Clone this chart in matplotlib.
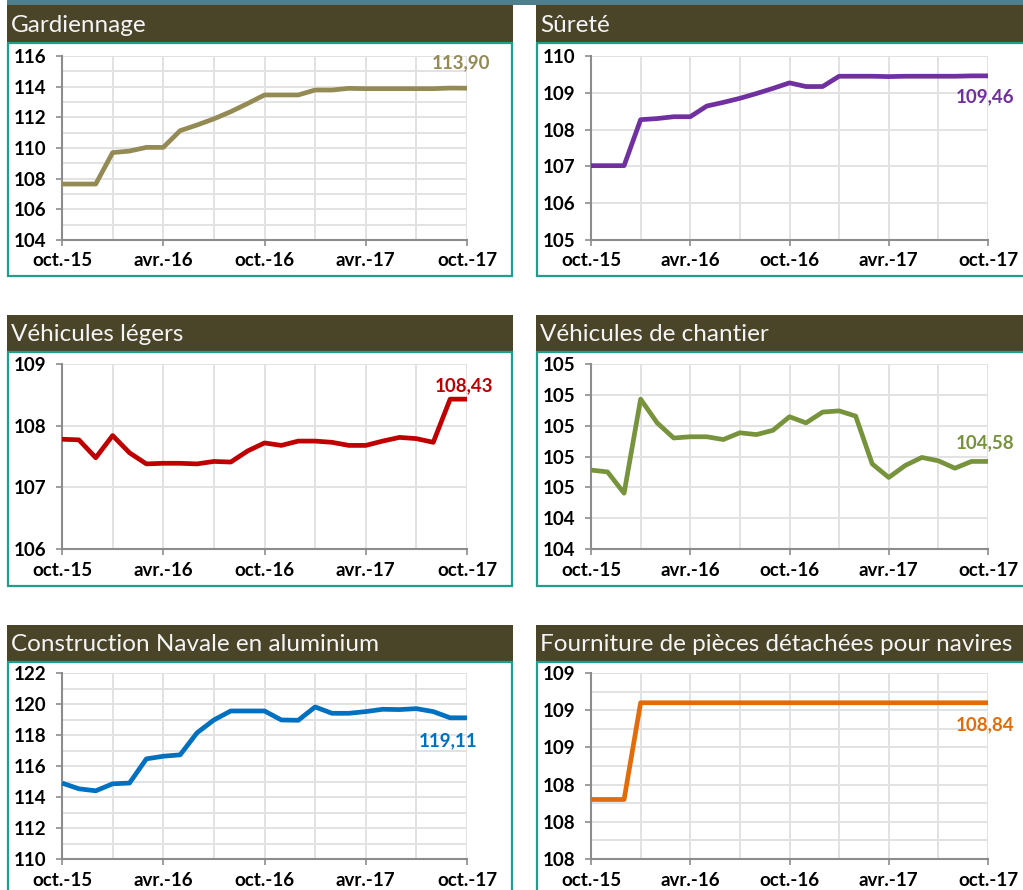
import math
import matplotlib
matplotlib.use("Agg")
import matplotlib.pyplot as plt
from matplotlib.patches import Rectangle
from matplotlib.ticker import FixedLocator, FuncFormatter

plt.rcParams['font.family'] = ['Lato', 'DejaVu Sans']

# ---------------- data ----------------
months = list(range(25))  # oct-15 .. oct-17 (monthly)
x_tick_pos = [0, 6, 12, 18, 24]
x_tick_labels = ['oct.-15', 'avr.-16', 'oct.-16', 'avr.-17', 'oct.-17']

titles = ['Gardiennage', 'Sûreté', 'Véhicules légers', 'Véhicules de chantier',
          'Construction Navale en aluminium', 'Fourniture de pièces détachées pour navires']

gardiennage = [107.65, 107.65, 107.65, 109.70, 109.80, 110.04, 110.04, 111.13, 111.50,
               111.90, 112.37, 112.90, 113.46, 113.46, 113.46, 113.78, 113.78, 113.89,
               113.87, 113.87, 113.87, 113.87, 113.87, 113.91, 113.90]
surete = [107.02, 107.02, 107.02, 108.27, 108.30, 108.35, 108.35, 108.64, 108.74,
          108.85, 108.98, 109.12, 109.27, 109.17, 109.17, 109.45, 109.45, 109.45,
          109.44, 109.45, 109.45, 109.45, 109.45, 109.46, 109.46]
vehicules_legers = [107.78, 107.77, 107.48, 107.84, 107.56, 107.38, 107.39, 107.39, 107.38,
                    107.42, 107.41, 107.59, 107.72, 107.68, 107.75, 107.75, 107.73, 107.68,
                    107.68, 107.75, 107.81, 107.79, 107.73, 108.43, 108.43]
vehicules_chantier = [104.556, 104.550, 104.481, 104.786, 104.709, 104.660, 104.664, 104.664,
                      104.655, 104.677, 104.671, 104.685, 104.729, 104.709, 104.744, 104.748,
                      104.731, 104.576, 104.532, 104.571, 104.597, 104.586, 104.562, 104.584,
                      104.584]
construction_navale = [114.90, 114.53, 114.40, 114.85, 114.90, 116.46, 116.63, 116.72, 118.14,
                       118.97, 119.55, 119.55, 119.55, 118.97, 118.95, 119.81, 119.40, 119.40,
                       119.51, 119.66, 119.64, 119.70, 119.51, 119.11, 119.11]
fourniture = [108.32, 108.32, 108.32, 108.84, 108.84, 108.84, 108.84, 108.84, 108.84,
              108.84, 108.84, 108.84, 108.84, 108.84, 108.84, 108.84, 108.84, 108.84,
              108.84, 108.84, 108.84, 108.84, 108.84, 108.84, 108.84]
end_labels = ['113,90', '109,46', '108,43', '104,58', '119,11', '108,84']

series = [gardiennage, surete, vehicules_legers, vehicules_chantier, construction_navale, fourniture]
colors = ['#948a54', '#7030a0', '#c00000', '#77933c', '#0070c0', '#e36c09']

# y axes: (min, max, major step, minor step or None)
y_axes = [(104, 116, 2, 1), (105, 110, 1, None), (106, 109, 1, None),
          (104.3, 104.9, 0.1, None), (110, 122, 2, 1), (108.0, 109.0, 0.2, 0.1)]

# ---------------- layout (pixels) ----------------
W, H = 1023, 890
fig = plt.figure(figsize=(W / 100, H / 100), dpi=100)


def fx(x):
    return x / W


def fy(y):
    return 1 - y / H


def rect_px(x0, y0, x1, y1, **kw):
    fig.add_artist(Rectangle((fx(x0), fy(y1)), fx(x1) - fx(x0), fy(y0) - fy(y1),
                             transform=fig.transFigure, **kw))


HEADER = '#4a4529'
BORDER = '#1f9e8c'

# top strip
rect_px(7, 0, 1023, 5, facecolor='#4f7e8d', edgecolor='none', zorder=0)

cols = [dict(hx0=7, hx1=513, bx0=8, bx1=512, ax0=62, ax1=467, tx=11),
        dict(hx0=536, hx1=1030, bx0=537, bx1=1040, ax0=591, ax1=988, tx=540)]
rows = [dict(hy0=5, hy1=43, by1=276, ay0=56, ay1=240),
        dict(hy0=315, hy1=352, by1=586, ay0=364, ay1=549),
        dict(hy0=625, hy1=662, by1=900, ay0=673, ay1=859)]

# label offsets (pixels): dx from end point to label's right edge, dy up (positive = above)
label_offsets = [(23, 25), (26, -21), (26, 13), (26, 19), (10, -23), (26, -22)]


def half_up(v, pos):
    return '%d' % math.floor(round(v, 6) + 0.5)


for i in range(6):
    r, c = rows[i // 2], cols[i % 2]
    # header + box
    rect_px(c['hx0'], r['hy0'], c['hx1'], r['hy1'], facecolor=HEADER, edgecolor='none', zorder=0)
    rect_px(c['bx0'], r['hy1'], c['bx1'], r['by1'], facecolor='white', edgecolor=BORDER,
            linewidth=1.6, zorder=0)
    fig.text(fx(c['tx']), fy((r['hy0'] + r['hy1']) / 2 + 1), titles[i], color='#f4f4f4',
             fontsize=17.5, ha='left', va='center')

    ax = fig.add_axes([fx(c['ax0']), fy(r['ay1']), fx(c['ax1']) - fx(c['ax0']),
                       fy(r['ay0']) - fy(r['ay1'])])
    ax.set_facecolor('none')
    ymin, ymax, step, mstep = y_axes[i]
    ax.set_xlim(0, 24)
    ax.set_ylim(ymin, ymax)
    nmaj = int(round((ymax - ymin) / step))
    ax.yaxis.set_major_locator(FixedLocator([ymin + k * step for k in range(nmaj + 1)]))
    if mstep:
        nmin = int(round((ymax - ymin) / mstep))
        ax.yaxis.set_minor_locator(FixedLocator([ymin + k * mstep for k in range(nmin + 1)]))
    ax.yaxis.set_major_formatter(FuncFormatter(half_up))
    ax.xaxis.set_major_locator(FixedLocator(x_tick_pos))
    ax.xaxis.set_minor_locator(FixedLocator([3, 9, 15, 21]))
    ax.set_xticklabels(x_tick_labels)

    ax.grid(True, which='both', axis='both', color='#e2e2e2', linewidth=1.4, zorder=0)
    ax.tick_params(axis='both', which='minor', length=0)
    ax.tick_params(axis='both', which='major', length=4, width=1.2, color='#8c8c8c',
                   labelsize=13.5, direction='out')
    ax.tick_params(axis='y', pad=7)
    ax.tick_params(axis='x', pad=5)
    for lab in ax.get_xticklabels() + ax.get_yticklabels():
        lab.set_fontweight('bold')
        lab.set_color('black')
    for s in ['top', 'right']:
        ax.spines[s].set_visible(False)
    for s in ['left', 'bottom']:
        ax.spines[s].set_color('#8c8c8c')
        ax.spines[s].set_linewidth(1.5)
    ax.axvline(24, color='#cfcfcf', linewidth=1.4, zorder=1)

    ax.plot(months, series[i], color=colors[i], linewidth=3.4, solid_capstyle='butt',
            solid_joinstyle='round', zorder=3, clip_on=False)
    dx, dy = label_offsets[i]
    ax.annotate(end_labels[i], xy=(months[-1], series[i][-1]), xytext=(dx, dy),
                textcoords='offset pixels', ha='right', va='center', color=colors[i],
                fontsize=13.5, fontweight='bold', annotation_clip=False, zorder=4)

fig.savefig('out.png', dpi=100)
